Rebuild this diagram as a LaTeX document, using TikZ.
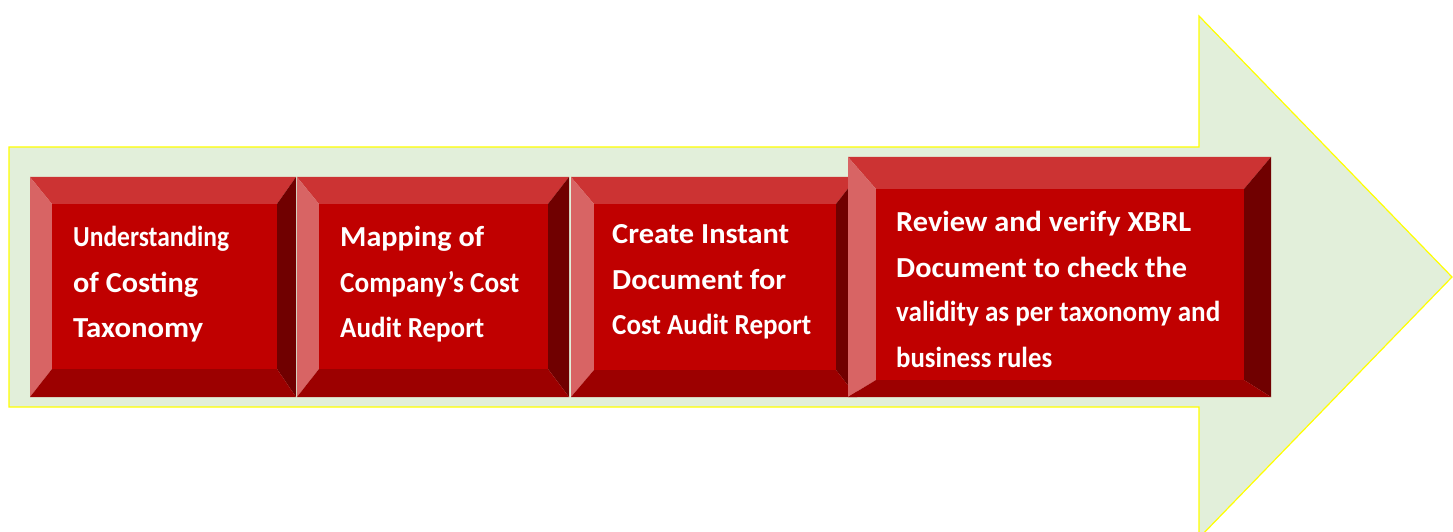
\documentclass[tikz,border=0pt]{standalone}
\usepackage{graphicx}
\usepackage{fontspec}
\setmainfont{Carlito}
\definecolor{bevtop}{HTML}{CC3333}
\definecolor{bevleft}{HTML}{D86464}
\definecolor{bevface}{HTML}{C00000}
\definecolor{bevright}{HTML}{700000}
\definecolor{bevbottom}{HTML}{9C0000}
\definecolor{arrowfill}{HTML}{E2EFDA}
\definecolor{arrowline}{HTML}{FFFF00}
% bevelled box: outer corners (#1,#2)-(#3,#4), face corners (#5,#6)-(#7,#8)
\newcommand\bevbox[8]{%
  \fill[bevtop] (#1,#2) -- (#3,#2) -- (#7,#6) -- (#5,#6) -- cycle;
  \fill[bevleft] (#1,#2) -- (#5,#6) -- (#5,#8) -- (#1,#4) -- cycle;
  \fill[bevright] (#3,#2) -- (#3,#4) -- (#7,#8) -- (#7,#6) -- cycle;
  \fill[bevbottom] (#1,#4) -- (#3,#4) -- (#7,#8) -- (#5,#8) -- cycle;
  \fill[bevface] (#5,#6) rectangle (#7,#8);
}
% one line of step text set to a given width
\newcommand\stepline[2]{\hbox{\resizebox{#1bp}{\height}{#2}}}
\begin{document}
\begin{tikzpicture}[x=1bp,y=-1bp,
  steptext/.style={anchor=base west, inner sep=0pt, text=white,
    font=\bfseries\fontsize{29bp}{45bp}\selectfont}]
\useasboundingbox (0,0) rectangle (1453,532);
% large background arrow
\draw[fill=arrowfill, draw=arrowline, line width=1.2bp]
  (9,147) -- (1199,147) -- (1199,16) -- (1452,277) -- (1199,538)
  -- (1199,407) -- (9,407) -- cycle;
% the four steps
\bevbox{30}{177}{296}{397}{52}{204}{277}{369}
\bevbox{297}{177}{569}{397}{319}{204}{548}{369}
\bevbox{571}{177}{857}{397}{594}{204}{836}{370}
\bevbox{848}{157}{1271}{397}{876}{189}{1244}{380}
\node[steptext] (s1) at (73,247)
  {\vtop{\stepline{156}{Understanding}\stepline{125}{of Costing}\stepline{130}{Taxonomy}}};
\node[steptext] (s2) at (340,247)
  {\vtop{\stepline{144}{Mapping of}\stepline{179}{Company’s Cost}\stepline{144}{Audit Report}}};
\node[steptext] (s3) at (612,244)
  {\vtop{\stepline{177}{Create Instant}\stepline{174}{Document for}\stepline{199}{Cost Audit Report}}};
\node[steptext] (s4) at (896,232)
  {\vtop{\stepline{295}{Review and verify XBRL}\stepline{291}{Document to check the}\stepline{324}{validity as per taxonomy and}\stepline{156}{business rules}}};
\end{tikzpicture}
\end{document}
